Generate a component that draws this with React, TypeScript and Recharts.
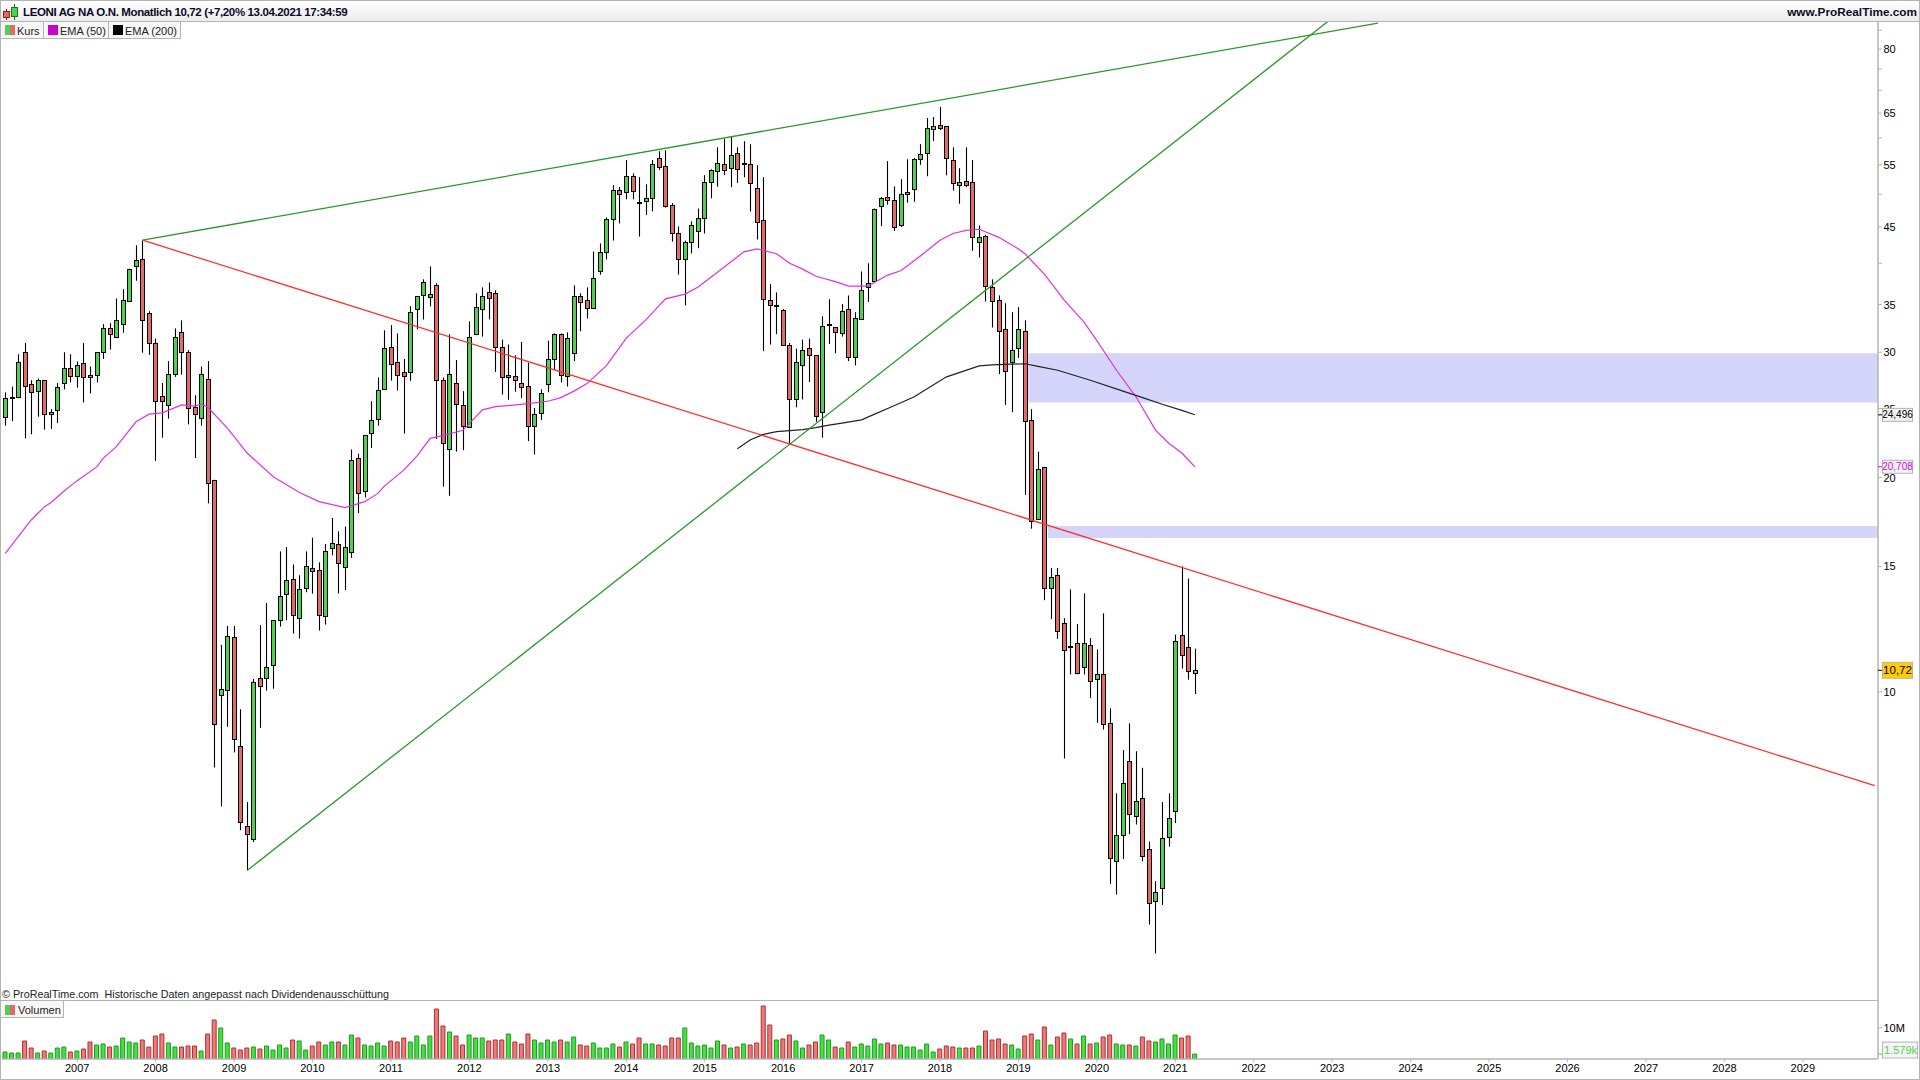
import React from 'react';
import {
  ComposedChart,
  Bar,
  Line,
  Cell,
  XAxis,
  YAxis,
  ReferenceLine,
  ReferenceArea
} from 'recharts';

// monthly candles, first one is Feb 2006
const opens = [
  24.35, 25.9, 25.95, 30, 27.05, 26.5, 27.4, 24.55, 24.85, 27.15, 28.5, 27.75, 29, 27.85, 27.85, 30, 32.4, 31.5, 32.85, 35.35,
  39.6, 40.5, 34.05, 30.9, 26, 25.25, 27.95, 32, 30, 25.1, 24.25, 27.55, 19.85, 9.9, 10.05, 11.93, 8.39, 6.47, 6.21, 10.46,
  10.46, 10.9, 12.61, 13.7, 14.39, 12.69, 13.98, 14.93, 14.83, 12.77, 15.9, 16.12, 14.98, 15.73, 21.3, 19.12, 23.07, 24.15, 26.6, 30.48,
  29.1, 28.1, 28.1, 34.5, 36.05, 35.85, 37.25, 27.45, 21.95, 27.15, 25.27, 23.58, 31.8, 34.5, 36.4, 36.3, 30.48, 27.65, 27.75, 27.15,
  26.85, 23.65, 24.65, 27.05, 29.35, 31.8, 27.75, 29.9, 35.95, 35.5, 34.6, 38.95, 41.45, 46.1, 50.65, 50.35, 53, 48.7, 48.9, 49.35,
  56.2, 54.75, 48.25, 44.05, 40.5, 42.9, 44.45, 46.25, 52, 53.9, 55.1, 54.4, 57.1, 55.2, 55.1, 51, 45.95, 35.5, 34.9, 34.4,
  30.75, 25.75, 28.8, 30.38, 29.7, 24.7, 32.75, 32.5, 31.9, 34.5, 29.55, 33.35, 37, 37.75, 48.1, 49.55, 49.05, 45.2, 50, 50.8,
  56, 57.1, 61.75, 62.55, 62.35, 55.85, 51.5, 52.2, 52, 42.9, 43.75, 37, 35.5, 32.3, 29.1, 30.4, 32.15, 24.08, 17.5, 20.7,
  13.98, 14.57, 12.48, 11.55, 11.7, 10.83, 11.65, 10.42, 10.59, 9.03, 5.79, 6.29, 8, 6.69, 7.09, 6.01, 5.08, 5.3, 6.25, 6.8,
  12, 11.55, 10.62
];
const closes = [
  25.85, 25.95, 29.05, 26.85, 26.4, 27.45, 24.55, 24.7, 26.8, 28.5, 27.75, 28.8, 27.65, 27.65, 30, 32.4, 31.8, 33.25, 35.5, 39.3,
  40.4, 33.25, 30.95, 25.6, 25.65, 27.95, 31.5, 30, 25.05, 24.6, 27.95, 19.65, 9, 10.1, 11.97, 8.58, 6.56, 6.31, 10.32, 10.19,
  10.83, 12.61, 13.62, 14.34, 12.8, 13.93, 15.03, 14.79, 12.8, 15.79, 16.17, 15.19, 15.95, 21.18, 19, 22.95, 24.08, 26.53, 30.38, 28.9,
  27.9, 27.75, 34.15, 35.95, 37.6, 36.2, 27.45, 22.35, 28, 25.35, 23.65, 31.55, 34.7, 35.95, 35.7, 30.48, 27.65, 27.85, 27.45, 26.8,
  23.65, 24.6, 26.25, 29.35, 31.8, 27.85, 31.45, 35.95, 35.25, 34.6, 38.2, 41.45, 46.1, 50.65, 50, 53, 50.5, 48.55, 49.35, 55.1,
  54.6, 48.1, 44.05, 40.5, 42.8, 45.2, 46.25, 52, 54.05, 55.3, 54.05, 56.75, 54.2, 55.4, 51.85, 45.65, 35.6, 34.9, 34.95, 30.75,
  25.75, 29.1, 30.2, 29.7, 24.4, 32.7, 32.85, 32.05, 34.25, 29.55, 33.5, 36.65, 37.5, 47.75, 49.35, 49.05, 45.05, 50, 50.3, 56,
  56.9, 61.95, 62.35, 61.95, 56.2, 51.85, 52, 51.5, 43.5, 43.5, 37.15, 35.35, 32.15, 28.2, 30.25, 32.3, 24, 17.35, 20.55, 13.98,
  14.52, 12.17, 11.45, 11.6, 10.62, 11.7, 10.36, 10.59, 9, 5.84, 6.29, 7.44, 6.74, 7.02, 5.88, 5.05, 5.23, 6.23, 6.65, 11.8,
  11.27, 10.7, 10.72
];
const highs = [
  26.35, 26.85, 29.8, 30.9, 27.4, 27.55, 27.4, 24.95, 27.15, 30, 29.8, 29.1, 30.9, 28.65, 30, 32.85, 32.95, 35.7, 36.8, 39.3,
  42.4, 43.05, 34.25, 31.35, 27.15, 29.15, 32.4, 33.25, 30.2, 26.1, 28.65, 29.15, 19.85, 11.64, 12.37, 12.37, 9.45, 7, 10.42, 12.41,
  13.33, 12.61, 15.75, 15.97, 15.1, 14.58, 15.75, 16.46, 15.2, 16.13, 17.55, 16.8, 17.07, 21.9, 21.6, 22.95, 25.6, 27.65, 32.2, 32.75,
  31.88, 29.35, 34.8, 35.95, 37.98, 39.6, 37.5, 27.65, 31.8, 29.25, 26.45, 33.15, 36.3, 37, 37.6, 36.65, 31.25, 30.75, 29.7, 31,
  29, 25.05, 26.6, 31.15, 31.88, 31.88, 32, 37.25, 36.3, 37, 41.55, 42.65, 46.4, 51.5, 51.2, 55.85, 53.5, 52.85, 51.65, 55.85,
  57.45, 57.65, 48.6, 45.05, 43.05, 45.8, 47.75, 53.2, 54.2, 58.2, 59.8, 60.35, 58.2, 59.35, 58.8, 54.95, 52.85, 37.4, 36.4, 34.5,
  30.9, 30.35, 31.25, 31.35, 29.7, 33.7, 35.6, 32.55, 35.05, 36.05, 34.15, 38.95, 40, 47.75, 49.55, 55.65, 51.3, 52.5, 56, 56.2,
  58.8, 64, 64.2, 66.35, 62.35, 58.2, 54.4, 58.2, 55.85, 45.2, 43.85, 37.98, 36.05, 35.15, 34.15, 34.7, 33.25, 24.95, 21.75, 20.7,
  14.93, 14.93, 12.69, 13.93, 12.45, 13.75, 11.9, 11.47, 12.89, 9.48, 7.2, 8.28, 9.03, 8.25, 7.82, 6.16, 5.42, 7, 7.2, 12.03,
  15, 14.43, 11.5
];
const lows = [
  23.65, 24, 25.85, 22.7, 23, 24.35, 23.35, 23.4, 23.85, 26.6, 27.2, 26.75, 25.5, 26.25, 27.2, 29.35, 30.25, 31.4, 31.95, 35.35,
  37.8, 29.95, 29.75, 21.1, 22.75, 24.2, 27.7, 27.9, 23.75, 21.3, 23.65, 18.4, 7.83, 6.9, 8.93, 8.22, 6.39, 5.61, 6.15, 8.9,
  10.04, 10.1, 12.35, 12.6, 12.07, 11.88, 13.8, 13.74, 12.19, 12.43, 15.55, 13.74, 13.9, 15.42, 17.83, 18.75, 22, 23.65, 26.6, 27.37,
  26.5, 23.05, 27.35, 32.3, 33.35, 34.8, 22.65, 19.42, 18.85, 21.75, 21.85, 23.58, 31.7, 31.55, 33.35, 28.15, 26.15, 25.72, 26.4, 25.85,
  22.5, 21.55, 24.08, 26.35, 28.3, 27.2, 26.85, 29.15, 32.1, 33.45, 34.6, 38.55, 40.5, 43.05, 45.5, 49.2, 49.2, 43.6, 46.75, 47.3,
  54.1, 47.9, 42.9, 38.55, 34.9, 41.3, 42, 44.05, 49.35, 51.25, 53.2, 51.15, 51.85, 52.85, 47.3, 43.2, 30.1, 30.75, 31.8, 30.75,
  22.3, 25.1, 25.75, 27.25, 23.95, 22.75, 30.8, 29.9, 31.55, 29.15, 28.75, 33.35, 35.3, 37.75, 45.1, 48.35, 44.4, 45, 48.65, 48.8,
  55, 53, 59.4, 61.55, 53.15, 50.6, 48.5, 51.15, 41.65, 40.75, 35.35, 32.5, 27.95, 25.3, 24.7, 29.45, 18.9, 16.95, 17.45, 13.45,
  12.65, 11.87, 8.06, 10.58, 10.58, 10.58, 9.8, 9.05, 8.85, 5.37, 5.19, 5.82, 6.31, 6.51, 5.78, 4.71, 4.29, 5.02, 6.06, 6.54,
  10.78, 10.4, 9.93
];
// million shares per month
const volumes = [
  2.24, 1.92, 1.92, 5.76, 3.52, 1.92, 2.56, 1.92, 3.52, 3.84, 2.24, 2.56, 3.2, 5.44, 4.48, 4.8, 3.84, 4.16, 6.72, 5.44,
  5.12, 6.08, 3.84, 7.36, 8, 5.12, 3.84, 3.84, 4.16, 4.16, 2.56, 8, 12.48, 9.92, 5.12, 3.52, 2.88, 3.52, 3.84, 3.2,
  4.16, 2.88, 4.48, 3.52, 6.08, 5.76, 2.88, 4.16, 5.44, 4.48, 5.44, 5.44, 4.48, 7.68, 6.72, 4.48, 4.16, 5.12, 4.16, 5.76,
  5.44, 6.72, 5.44, 7.36, 4.48, 7.36, 16, 10.56, 8.64, 7.36, 4.48, 7.68, 6.72, 6.72, 5.76, 6.08, 6.08, 8, 5.44, 4.8,
  8, 6.08, 5.12, 6.08, 5.44, 6.08, 5.44, 7.04, 4.48, 4.16, 5.12, 3.52, 3.52, 4.8, 3.84, 5.44, 4.8, 6.72, 4.8, 4.8,
  4.48, 4.16, 6.72, 6.72, 9.92, 5.12, 4.16, 4.48, 3.52, 5.76, 4.48, 3.52, 3.84, 4.8, 4.48, 5.12, 16.96, 10.88, 6.08, 6.4,
  7.68, 5.76, 3.52, 4.48, 5.44, 7.68, 6.08, 3.84, 3.52, 5.44, 3.84, 4.8, 4.16, 6.4, 4.8, 5.12, 4.48, 4.48, 3.84, 3.84,
  2.88, 4.8, 2.24, 3.2, 4.16, 3.84, 3.52, 3.52, 3.52, 4.16, 8.96, 6.08, 6.4, 4.8, 4.48, 3.2, 7.36, 8, 6.08, 10.24,
  4.48, 7.04, 8.32, 6.4, 4.8, 7.36, 4.8, 5.12, 7.04, 7.68, 4.8, 4.48, 4.48, 4.16, 7.04, 5.76, 5.44, 6.4, 4.8, 7.68,
  6.72, 7.36, 1.58
];

// moving averages read at the months where the curve changes direction
const ema50Months = [
  0, 4, 6, 7, 9, 11, 14, 15, 17, 20, 22, 24, 27, 29, 30, 31, 34, 37, 41, 45, 48, 52, 55, 57, 58, 61, 63, 65, 67, 70, 73, 75, 80, 83, 85, 87, 89,
  92, 95, 98, 101, 104, 106, 108, 113, 115, 118, 120, 122, 124, 127, 129, 132, 135, 137, 140, 143, 145, 147, 149, 152, 155, 156, 159, 162, 165,
  167, 170, 173, 176, 178, 180, 182
];
const ema50Values = [
  15.65, 17.45, 18.2, 18.45, 19.15, 19.8, 20.7, 21.3, 22.1, 23.95, 24.55, 24.65, 25.3, 25.2, 25.35, 25.1, 23.45, 21.65, 20.05, 19.05, 18.5, 18.15, 18.5, 19, 19.45, 20.5, 21.45, 22.7, 22.9, 23.3, 24.9, 25.15, 25.4, 25.6, 25.9, 26.45, 27.1,
  28.75, 31.4, 33.3, 35.65, 36.2, 37.05, 38.25, 41.5, 41.9, 41.25, 40, 39.25, 38.35, 37.7, 37.15, 37.15, 38.5, 39.05, 40.95, 43.1, 44.05, 44.5, 44.65, 43.5, 41.9, 41.25, 38.6, 35.5, 33.1,
  31.15, 28.3, 25.95, 23.3, 22.35, 21.65, 20.7
];
const ema200Months = [112, 114, 116, 118, 122, 124, 126, 128, 131, 133, 135, 139, 144, 149, 151, 156, 158, 161, 166, 171, 174, 177, 180, 182];
const ema200Values = [21.95, 22.6, 23, 23.2, 23.35, 23.5, 23.7, 23.85, 24.1, 24.55, 25, 25.95, 27.7, 28.7, 28.8, 28.9, 28.65, 28.3, 27.4, 26.45, 25.9, 25.35, 24.85, 24.5];

const monthCount = 287;
const months: string[] = [];
for (let i = 0; i < monthCount; i++) {
  const t = 2006 * 12 + 1 + i;
  months.push(`${Math.floor(t / 12)}-${String((t % 12) + 1).padStart(2, '0')}`);
}

const yearTicks = [
  '2007-01', '2008-01', '2009-01', '2010-01', '2011-01', '2012-01', '2013-01', '2014-01', '2015-01', '2016-01', '2017-01', '2018-01',
  '2019-01', '2020-01', '2021-01', '2022-01', '2023-01', '2024-01', '2025-01', '2026-01', '2027-01', '2028-01', '2029-01'
];
const labelledPrices = [80, 65, 55, 45, 35, 30, 25, 20, 15, 10];
const minorPrices = [85, 75, 70, 60, 50, 40];
const taggedPrices = [24.496, 20.708, 10.72];

const table = months.map((month, i) => {
  const e50 = ema50Months.indexOf(i);
  const e200 = ema200Months.indexOf(i);
  return {
    month,
    open: i < opens.length ? opens[i] : null,
    close: i < closes.length ? closes[i] : null,
    high: i < highs.length ? highs[i] : null,
    low: i < lows.length ? lows[i] : null,
    volume: i < volumes.length ? volumes[i] : null,
    ema50: e50 >= 0 ? ema50Values[e50] : null,
    ema200: e200 >= 0 ? ema200Values[e200] : null
  };
});

const GRAY = '#b4b4b4';
const FONT = '"Liberation Sans", Arial, sans-serif';

// Bar gives the pixel box of low..high, open and close are placed inside it on the same log scale
const CandleShape = (props: any) => {
  const { x, y, width, height, payload } = props;
  if (payload.high == null || !height) return null;
  const { open, close, high, low } = payload;
  const span = Math.log(high / low);
  const yOf = (v: number) => y + (height * Math.log(high / v)) / span;
  const cx = Math.floor(x + width / 2) + 0.5;
  const top = Math.round(yOf(Math.max(open, close))) + 0.5;
  const bottom = Math.round(yOf(Math.min(open, close))) + 0.5;
  const fill = close >= open ? '#4fd14f' : '#e46a6a';
  return (
    <g>
      <line x1={cx} x2={cx} y1={y} y2={y + height} stroke="#000" strokeWidth={1.1} />
      <rect x={cx - 2} y={top} width={4} height={Math.max(bottom - top, 1)} fill={fill} stroke="#000" strokeWidth={1} />
    </g>
  );
};

const PriceTick = (props: any) => {
  const { x, y, payload } = props;
  const v = payload.value;
  const isTag = taggedPrices.includes(v);
  if (isTag) {
    const gold = v === 10.72;
    const h = gold ? 16 : 13;
    return (
      <g>
        <line x1={x} x2={x + 4} y1={y} y2={y} stroke={v === 20.708 ? '#dd00dd' : '#000'} />
        <rect x={x + 4.5} y={y - h / 2} width={30} height={h} fill={gold ? '#ffcc00' : '#f4f4f4'} stroke={GRAY} />
        <text x={x + 19.5} y={y + 3.5} textAnchor="middle" fontSize={gold ? 11.5 : 10} fontFamily={FONT} fill={v === 20.708 ? '#dd00dd' : '#000'}>
          {String(v).replace('.', ',')}
        </text>
      </g>
    );
  }
  return (
    <g>
      <line x1={x} x2={x + 4} y1={y} y2={y} stroke={GRAY} />
      {labelledPrices.includes(v) && (
        <text x={x + 5.5} y={y + 4} fontSize={11} fontFamily={FONT} fill="#000">{v}</text>
      )}
    </g>
  );
};

const VolumeTick = (props: any) => {
  const { x, y, payload } = props;
  if (payload.value === 1.579) {
    return (
      <g>
        <line x1={x} x2={x + 4} y1={y} y2={y} stroke="#44cc44" />
        <rect x={x + 4.5} y={y - 12} width={35} height={16} fill="#f4f4f4" stroke={GRAY} />
        <text x={x + 6} y={y} fontSize={11} fontFamily={FONT} fill="#4fd14f">1.579k</text>
      </g>
    );
  }
  return (
    <g>
      <line x1={x} x2={x + 4} y1={y} y2={y} stroke={GRAY} />
      <text x={x + 5.5} y={y + 4} fontSize={11} fontFamily={FONT} fill="#000">10M</text>
    </g>
  );
};

const legendBox = (left: number, top: number, width: number, height: number): React.CSSProperties => ({
  position: 'absolute',
  left,
  top,
  width,
  height,
  boxSizing: 'border-box',
  border: `1px solid ${GRAY}`,
  background: '#f7f7f7'
});

const swatch = (left: number, top: number, width: number, height: number, background: string): React.CSSProperties => ({
  position: 'absolute',
  left,
  top,
  width,
  height,
  background
});

const textAt = (left: number, top: number): React.CSSProperties => ({
  position: 'absolute',
  left,
  top,
  fontSize: 11,
  lineHeight: '14px',
  color: '#222',
  whiteSpace: 'pre'
});

const App: React.FC = () => (
  <div style={{ position: 'absolute', left: 0, top: 0, width: 1920, height: 1080, background: '#fff', overflow: 'hidden', fontFamily: FONT }}>
    <div style={{ position: 'absolute', left: 0, top: 0 }}>
      <ComposedChart width={1920} height={1000} data={table} margin={{ top: 22, right: 0, bottom: 0, left: 2 }} barCategoryGap={0}>
        <XAxis dataKey="month" scale="band" hide />
        <YAxis
          orientation="right"
          width={42}
          scale="log"
          type="number"
          domain={[3.69, 87.3]}
          allowDataOverflow
          ticks={[...labelledPrices, ...minorPrices, ...taggedPrices]}
          interval={0}
          tickSize={0}
          tickMargin={0}
          tickLine={false}
          axisLine={{ stroke: GRAY, strokeWidth: 1.5 }}
          tick={PriceTick}
        />
        <ReferenceArea x1="2019-03" x2="2029-12" y1={25.49} y2={29.9} fill="#d5d5fb" fillOpacity={1} stroke="none" />
        <ReferenceArea x1="2019-06" x2="2029-12" y1={16.45} y2={17.1} fill="#d5d5fb" fillOpacity={1} stroke="none" />
        <Bar dataKey={(d: any) => (d.high == null ? null : [d.low, d.high])} shape={CandleShape} isAnimationActive={false} />
        <Line dataKey="ema50" stroke="#e030e0" strokeWidth={1.2} dot={false} connectNulls isAnimationActive={false} />
        <Line dataKey="ema200" stroke="#222" strokeWidth={1.2} dot={false} connectNulls isAnimationActive={false} />
        <ReferenceLine segment={[{ x: '2007-11', y: 43.1 }, { x: '2023-08', y: 87 }]} stroke="#2e962e" strokeWidth={1.3} ifOverflow="hidden" />
        <ReferenceLine segment={[{ x: '2009-03', y: 5.61 }, { x: '2023-02', y: 89.9 }]} stroke="#2e962e" strokeWidth={1.3} ifOverflow="hidden" />
        <ReferenceLine segment={[{ x: '2007-11', y: 43.1 }, { x: '2029-12', y: 7.38 }]} stroke="#ff3030" strokeWidth={1.3} ifOverflow="hidden" />
      </ComposedChart>
    </div>

    <div style={{ position: 'absolute', left: 0, top: 1000 }}>
      <ComposedChart width={1920} height={80} data={table} margin={{ top: 0, right: 0, bottom: 0, left: 2 }}>
        <XAxis
          dataKey="month"
          scale="band"
          height={21}
          ticks={yearTicks}
          interval={0}
          tickFormatter={(m: string) => m.slice(0, 4)}
          tick={{ fontSize: 11, fontFamily: FONT, fill: '#000' }}
          tickSize={3}
          tickMargin={2}
          tickLine={{ stroke: GRAY }}
          axisLine={{ stroke: GRAY, strokeWidth: 1.5 }}
        />
        <YAxis
          orientation="right"
          width={42}
          type="number"
          domain={[0, 18.88]}
          allowDataOverflow
          ticks={[10, 1.579]}
          interval={0}
          tickSize={0}
          tickMargin={0}
          tickLine={false}
          axisLine={{ stroke: GRAY, strokeWidth: 1.5 }}
          tick={VolumeTick}
        />
        <Bar dataKey="volume" barSize={4} isAnimationActive={false} strokeWidth={1}>
          {table.map(d => {
            const up = d.close != null && d.open != null && d.close >= d.open;
            return <Cell key={d.month} fill={up ? '#44e044' : '#f07878'} stroke={up ? '#1c9a1c' : '#a83232'} />;
          })}
        </Bar>
      </ComposedChart>
    </div>

    {/* header strip */}
    <div style={{ position: 'absolute', left: 0, top: 0, width: 1920, height: 22, boxSizing: 'border-box', borderTop: `1px solid ${GRAY}`, borderBottom: `1px solid ${GRAY}`, background: 'linear-gradient(#ffffff, #ececec)' }} />
    <svg width={20} height={20} style={{ position: 'absolute', left: 2, top: 2 }}>
      <line x1={4.5} x2={4.5} y1={7} y2={18} stroke="#a01818" />
      <rect x={1.5} y={9.5} width={6} height={6} fill="#e46a6a" stroke="#a01818" />
      <line x1={12.5} x2={12.5} y1={2} y2={18} stroke="#117a11" />
      <rect x={9.5} y={5.5} width={6} height={9} fill="#4fd14f" stroke="#117a11" />
    </svg>
    <div style={{ position: 'absolute', left: 23, top: 5, fontSize: 11.5, letterSpacing: -0.37, fontWeight: 700, lineHeight: '14px', color: '#0a0a28', whiteSpace: 'nowrap' }}>
      LEONI AG NA O.N. Monatlich 10,72 (+7,20% 13.04.2021 17:34:59
    </div>
    <div style={{ position: 'absolute', right: 3, top: 5, fontSize: 11.8, fontWeight: 700, lineHeight: '14px', color: '#0a0a28', whiteSpace: 'nowrap' }}>
      www.ProRealTime.com
    </div>

    {/* legends */}
    <div style={legendBox(0, 21, 44, 18)} />
    <div style={swatch(5, 25, 5, 10, '#4fd14f')} />
    <div style={swatch(10, 25, 5, 10, '#e46a6a')} />
    <div style={textAt(17, 24)}>Kurs</div>
    <div style={legendBox(43, 21, 66, 18)} />
    <div style={swatch(48, 25, 10, 10, '#cc00cc')} />
    <div style={textAt(60, 24)}>EMA (50)</div>
    <div style={legendBox(108, 21, 73, 18)} />
    <div style={swatch(113, 25, 10, 10, '#000')} />
    <div style={textAt(125, 24)}>EMA (200)</div>

    <div style={{ ...textAt(2, 987), fontSize: 10.75 }}>© ProRealTime.com  Historische Daten angepasst nach Dividendenausschüttung</div>

    <div style={legendBox(0, 1000, 64, 18)} />
    <div style={swatch(5, 1005, 5, 10, '#4fd14f')} />
    <div style={swatch(10, 1005, 5, 10, '#e46a6a')} />
    <div style={textAt(18, 1003)}>Volumen</div>

    {/* window frame */}
    <div style={{ position: 'absolute', left: 0, top: 0, width: 1, height: 1080, background: GRAY }} />
    <div style={{ position: 'absolute', left: 1919, top: 0, width: 1, height: 1080, background: GRAY }} />
    <div style={{ position: 'absolute', left: 0, top: 999.5, width: 1878, height: 1, background: GRAY }} />
    <div style={{ position: 'absolute', left: 0, top: 1079, width: 1920, height: 1, background: GRAY }} />
  </div>
);

export default App;
